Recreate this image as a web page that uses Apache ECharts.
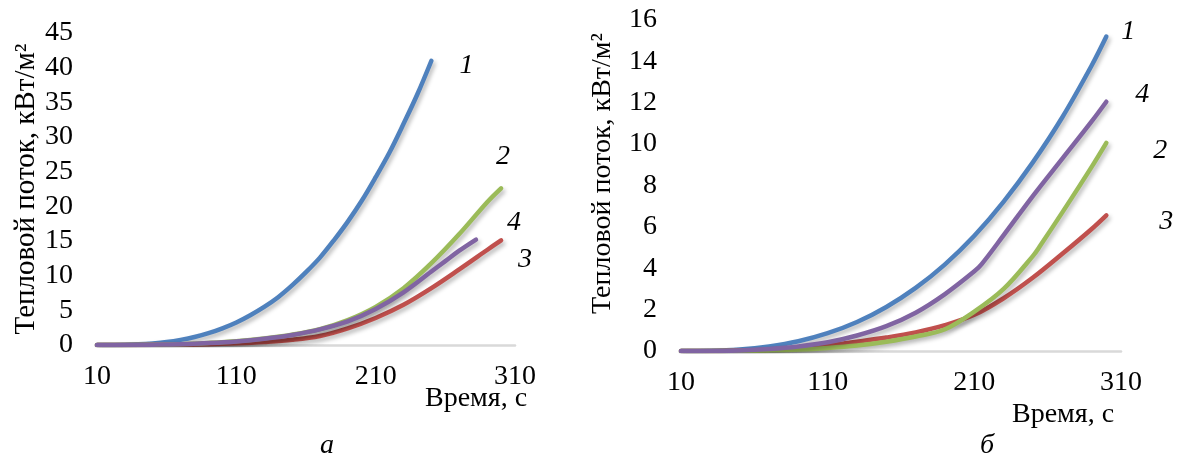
<!DOCTYPE html>
<html><head><meta charset="utf-8">
<script src="https://cdn.jsdelivr.net/npm/echarts@6/dist/echarts.min.js"></script>
<style>html,body{margin:0;padding:0;background:#fff}#c{width:1177px;height:456px}</style>
</head><body><div id="c"></div>
<script>
// ---- Data ----
// Chart a
const a_t1 = [10,20,30,40,50,60,70,80,90,100,110,120,130,140,150,160,170,180,190,200,210,220,230,240,250];
const a_q1 = [0,0.01,0.03,0.1,0.23,0.43,0.74,1.15,1.7,2.4,3.25,4.3,5.5,6.9,8.6,10.5,12.6,15.1,17.8,20.8,24.2,27.8,31.9,36.2,41];
const a_t2 = [10,30,50,70,90,110,130,150,170,190,210,230,250,270,290,300];
const a_q2 = [0,0.01,0.05,0.12,0.3,0.55,0.95,1.5,2.3,3.6,5.5,8.2,11.8,16.0,20.6,22.6];
const a_t3 = [10,30,50,70,90,110,130,150,170,190,210,230,250,270,290,300];
const a_q3 = [0,0,0.02,0.05,0.12,0.25,0.45,0.75,1.3,2.4,3.9,5.8,8.2,10.9,13.7,15.1];
const a_t4 = [10,30,50,70,90,110,130,150,170,190,210,230,250,260,270,282];
const a_q4 = [0,0.01,0.05,0.12,0.28,0.52,0.9,1.45,2.25,3.4,5.2,7.6,10.6,12.1,13.6,15.2];
// Chart b
const b_t1 = [10,30,50,70,90,110,130,150,170,190,210,230,250,270,290,300];
const b_q1 = [0,0.01,0.07,0.22,0.47,0.86,1.4,2.13,3.05,4.19,5.57,7.22,9.13,11.3,13.8,15.2];
const b_t2 = [10,30,50,70,90,110,130,150,170,190,210,230,250,255,270,290,300];
const b_q2 = [0,0,0.01,0.03,0.07,0.15,0.27,0.45,0.7,1.05,1.9,3.0,4.6,5.1,6.7,8.9,10.06];
const b_t3 = [10,30,50,70,90,110,130,150,170,190,210,230,250,270,290,300];
const b_q3 = [0,0,0.02,0.06,0.14,0.27,0.45,0.65,0.9,1.25,1.75,2.55,3.55,4.7,5.9,6.56];
const b_t4 = [10,30,50,70,90,110,130,150,170,190,210,215,230,250,270,290,300];
const b_q4 = [0,0,0.03,0.1,0.22,0.42,0.75,1.2,1.85,2.75,3.85,4.2,5.6,7.5,9.3,11.1,12.05];

const xTicks = [10,110,210,310];
const yTicksA = [0,5,10,15,20,25,30,35,40,45];
const yTicksB = [0,2,4,6,8,10,12,14,16];
const curveNames = ['1','2','3','4'];
const yTitle = 'Тепловой поток, кВт/м²';
const xTitle = 'Время, с';
const captions = ['а','б'];

const colors = ['#4F81BD','#9BBB59','#C0504D','#8064A2'];
const zOrder = [2,4,3,5];
const FONT = 'Liberation Serif';
const FS = 28;

function zip(t,q){return t.map((v,i)=>[v,q[i]]);}

function ser(idx, grid, t, q, name, off){
  return {
    type:'line', xAxisIndex:grid, yAxisIndex:grid, data:zip(t,q), smooth:0.35,
    showSymbol:false, symbol:'none', z: zOrder[idx],
    lineStyle:{color:colors[idx],width:4.5,cap:'round',shadowColor:'rgba(0,0,0,0.28)',shadowBlur:4,shadowOffsetX:2,shadowOffsetY:3},
    endLabel:{show:true,formatter:name,offset:off,align:'center',verticalAlign:'middle',
      fontFamily:FONT,fontStyle:'italic',fontSize:FS,color:'#000',distance:0},
    silent:true, animation:false
  };
}

function xAx(grid){
  return {gridIndex:grid,type:'value',min:xTicks[0],max:xTicks[xTicks.length-1],interval:xTicks[1]-xTicks[0],
    axisLine:{show:true,lineStyle:{color:'#D9D9D9',width:2.5}},axisTick:{show:false},splitLine:{show:false},
    axisLabel:{fontFamily:FONT,fontSize:FS,color:'#000',margin:18}};
}
function yAx(grid,ticks,gap,nfs,pad){
  return {gridIndex:grid,type:'value',min:ticks[0],max:ticks[ticks.length-1],interval:ticks[1]-ticks[0],
    axisLine:{show:false},axisTick:{show:false},splitLine:{show:false},
    axisLabel:{fontFamily:FONT,fontSize:FS,color:'#000',margin:24},
    name:yTitle,nameLocation:'middle',nameRotate:90,nameGap:gap,
    nameTextStyle:{fontFamily:FONT,fontSize:nfs,color:'#000',padding:pad}};
}

const chart = echarts.init(document.getElementById('c'),null,{renderer:'canvas'});
chart.setOption({
  animation:false,
  grid:[
    {left:97,top:33,width:418,height:312},
    {left:681,top:20,width:440,height:331}
  ],
  xAxis:[xAx(0),xAx(1)],
  yAxis:[yAx(0,yTicksA,56,29,[0,0,0,0]),yAx(1,yTicksB,64,28,[0,0,0,24])],
  title:[
    {text:xTitle,left:420,top:380,textStyle:{fontFamily:FONT,fontSize:FS,fontWeight:'normal',color:'#000'}},
    {text:xTitle,left:1007,top:396,textStyle:{fontFamily:FONT,fontSize:FS,fontWeight:'normal',color:'#000'}},
    {text:captions[0],left:315,top:427,textStyle:{fontFamily:FONT,fontSize:FS,fontStyle:'italic',fontWeight:'normal',color:'#000'}},
    {text:captions[1],left:975,top:427,textStyle:{fontFamily:FONT,fontSize:FS,fontStyle:'italic',fontWeight:'normal',color:'#000'}}
  ],
  series:[
    ser(0,0,a_t1,a_q1,curveNames[0],[35,5]),
    ser(1,0,a_t2,a_q2,curveNames[1],[2,-32]),
    ser(2,0,a_t3,a_q3,curveNames[2],[24,19]),
    ser(3,0,a_t4,a_q4,curveNames[3],[38,-17]),
    ser(0,1,b_t1,b_q1,curveNames[0],[22,-5]),
    ser(1,1,b_t2,b_q2,curveNames[1],[54,8]),
    ser(2,1,b_t3,b_q3,curveNames[2],[60,6]),
    ser(3,1,b_t4,b_q4,curveNames[3],[36,-7])
  ]
});
</script></body></html>
